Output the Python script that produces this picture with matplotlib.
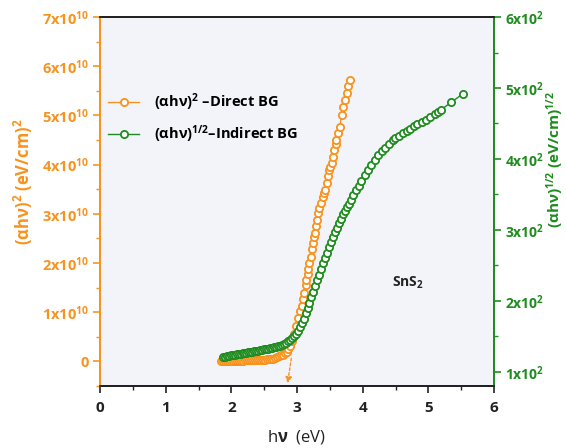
import matplotlib
matplotlib.use("Agg")
import matplotlib.pyplot as plt
from matplotlib.lines import Line2D
from matplotlib.ticker import FixedLocator, FixedFormatter, MultipleLocator

plt.rcParams['font.family'] = ['Open Sans', 'DejaVu Sans']
plt.rcParams['font.weight'] = 'bold'
plt.rcParams['mathtext.fontset'] = 'custom'
plt.rcParams['mathtext.rm'] = 'Open Sans:bold'
plt.rcParams['mathtext.bf'] = 'Open Sans:bold'
plt.rcParams['mathtext.it'] = 'Open Sans:bold'

ORANGE = '#f7931e'
GREEN = '#1f8c1f'

# Direct band gap: (alpha h nu)^2 in units of 1e10 (eV/cm)^2
direct_E = [1.85, 1.88, 1.91, 1.94, 1.97, 2.00, 2.03, 2.06, 2.09, 2.12, 2.15, 2.18,
            2.21, 2.24, 2.27, 2.30, 2.33, 2.36, 2.39, 2.42, 2.45, 2.48, 2.51, 2.54,
            2.57, 2.60, 2.63, 2.66, 2.69, 2.72, 2.75, 2.78, 2.81, 2.84, 2.87, 2.90,
            2.93, 2.96, 2.99, 3.02, 3.05, 3.07, 3.09, 3.11, 3.13, 3.14, 3.16, 3.17,
            3.19, 3.21, 3.23, 3.24, 3.26, 3.27, 3.29, 3.30, 3.32, 3.34, 3.36, 3.39,
            3.41, 3.43, 3.45, 3.47, 3.49, 3.51, 3.53, 3.55, 3.57, 3.59, 3.60, 3.63,
            3.65, 3.68, 3.70, 3.73, 3.76, 3.77, 3.81]
direct_val = [0.00, 0.00, 0.00, 0.00, 0.00, 0.00, 0.01, 0.01, 0.01, 0.01, 0.01, 0.01,
              0.02, 0.02, 0.02, 0.02, 0.02, 0.02, 0.03, 0.03, 0.03, 0.03, 0.03, 0.04,
              0.04, 0.04, 0.05, 0.06, 0.08, 0.10, 0.12, 0.14, 0.17, 0.20, 0.25, 0.32,
              0.42, 0.55, 0.72, 0.89, 1.02, 1.12, 1.26, 1.40, 1.55, 1.66, 1.78, 1.87,
              2.00, 2.13, 2.28, 2.41, 2.52, 2.62, 2.76, 2.88, 3.02, 3.12, 3.22, 3.35,
              3.42, 3.49, 3.63, 3.76, 3.89, 3.96, 4.04, 4.16, 4.30, 4.42, 4.50, 4.64,
              4.77, 5.01, 5.17, 5.31, 5.46, 5.60, 5.72]

# Indirect band gap: (alpha h nu)^(1/2) in (eV/cm)^(1/2)
indirect_E = [1.87, 1.90, 1.93, 1.96, 1.99, 2.02, 2.05, 2.08, 2.11, 2.14, 2.17, 2.20,
              2.23, 2.26, 2.29, 2.32, 2.35, 2.38, 2.41, 2.44, 2.47, 2.50, 2.53, 2.56,
              2.59, 2.62, 2.65, 2.68, 2.71, 2.74, 2.77, 2.80, 2.83, 2.86, 2.89, 2.92,
              2.95, 2.98, 3.01, 3.04, 3.07, 3.10, 3.13, 3.16, 3.19, 3.22, 3.25, 3.28,
              3.31, 3.34, 3.37, 3.40, 3.43, 3.46, 3.49, 3.52, 3.55, 3.58, 3.61, 3.64,
              3.67, 3.70, 3.73, 3.76, 3.79, 3.82, 3.86, 3.90, 3.94, 3.98, 4.03, 4.08,
              4.13, 4.19, 4.24, 4.29, 4.34, 4.40, 4.46, 4.49, 4.55, 4.62, 4.68, 4.72,
              4.78, 4.82, 4.90, 4.97, 5.03, 5.10, 5.15, 5.19, 5.35, 5.53]
indirect_val = [121, 121.5, 122, 122.5, 123, 123.5, 124, 124.5, 125, 125.5, 126, 126.5,
                127, 127.5, 128, 128.5, 129, 129.5, 130, 130.5, 131, 131.5, 132, 132.5,
                133, 134, 134.5, 135.5, 136, 137, 138, 139, 141, 143, 145, 147,
                150, 153, 157, 163, 169, 175, 183, 190, 197, 205, 213, 221,
                229, 237, 245, 253, 261, 268, 276, 283, 290, 297, 303, 310,
                316, 322, 327, 332, 337, 342, 349, 356, 362, 369, 377, 384,
                391, 399, 406, 411, 416, 421, 427, 430, 433, 437, 440, 442,
                446, 449, 452, 455, 459, 464, 466, 469, 480, 492]

left_ticks = [0, 1, 2, 3, 4, 5, 6, 7]
left_labels = ['0'] + [r'$%d\mathrm{x}10^{10}$' % v for v in left_ticks[1:]]
right_ticks = [100, 200, 300, 400, 500, 600]
right_labels = [r'$%d\mathrm{x}10^{2}$' % (v // 100) for v in right_ticks]
x_ticks = [0, 1, 2, 3, 4, 5, 6]

direct_gap = 2.85  # extrapolated intercept on the energy axis

W, H = 566, 448
fig = plt.figure(figsize=(W / 100, H / 100), dpi=100)
ax = fig.add_axes([0.1767, 0.1384, 0.6961, 0.8236])
ax.set_facecolor('#f3f3fa')
ax2 = ax.twinx()

scale = 1e10
ax.plot(direct_E, [v * scale for v in direct_val], '-o', color=ORANGE, lw=1.0,
        ms=5.2, mfc='white', mec=ORANGE, mew=1.3)
ax2.plot(indirect_E, indirect_val, '-o', color=GREEN, lw=1.0,
         ms=5.2, mfc='white', mec=GREEN, mew=1.3)

ax.annotate('', xy=(direct_gap, -0.5 * scale), xytext=(2.92, 0.12 * scale),
            arrowprops=dict(arrowstyle='-|>', color=ORANGE, lw=1.0, ls=(0, (2, 1.5)),
                            mutation_scale=9))

ax.set_xlim(0, 6)
ax.set_ylim(-0.5 * scale, 7 * scale)
ax2.set_ylim(80, 600)

ax.xaxis.set_major_locator(FixedLocator(x_ticks))
ax.xaxis.set_minor_locator(MultipleLocator(0.5))
ax.set_xticklabels([str(v) for v in x_ticks])

ax.yaxis.set_major_locator(FixedLocator([v * scale for v in left_ticks]))
ax.yaxis.set_major_formatter(FixedFormatter(left_labels))
ax.yaxis.set_minor_locator(MultipleLocator(0.5 * scale))
ax2.yaxis.set_major_locator(FixedLocator(right_ticks))
ax2.yaxis.set_major_formatter(FixedFormatter(right_labels))
ax2.yaxis.set_minor_locator(MultipleLocator(50))

for a in (ax, ax2):
    a.spines['left'].set_color(ORANGE)
    a.spines['right'].set_color(GREEN)
    a.spines['top'].set_color('#222222')
    a.spines['bottom'].set_color('#222222')
    for s in a.spines.values():
        s.set_linewidth(1.3)

ax.tick_params(axis='x', which='major', direction='out', length=5, width=1.2,
               colors='#222222', labelsize=11, pad=6)
ax.tick_params(axis='x', which='minor', direction='out', length=3, width=1.0, colors='#222222')
ax.tick_params(axis='y', which='major', direction='out', length=5, width=1.2,
               colors=ORANGE, labelsize=10.5, pad=3)
ax.tick_params(axis='y', which='minor', direction='out', length=3, width=1.0, colors=ORANGE)
ax2.tick_params(axis='y', which='major', direction='out', length=5, width=1.2,
                colors=GREEN, labelsize=10, pad=3)
ax2.tick_params(axis='y', which='minor', direction='out', length=3, width=1.0, colors=GREEN)

ax.set_xlabel(r'h$\nu$  (eV)', fontsize=12, color='#222222', labelpad=9)

# Axis titles for the two y scales, placed in figure pixels
fig.text(23 / W, 1 - 182 / H, r'($\alpha$h$\nu$)$^2$ (eV/cm)$^2$', rotation=90,
         ha='center', va='center', fontsize=12, color=ORANGE)
fig.text(555 / W, 1 - 160 / H, r'($\alpha$h$\nu$)$^{1/2}$ (eV/cm)$^{1/2}$', rotation=90,
         ha='center', va='center', fontsize=11, color=GREEN)

handles = [
    Line2D([], [], color=ORANGE, lw=1.0, marker='o', ms=5.2, mfc='white', mec=ORANGE, mew=1.3),
    Line2D([], [], color=GREEN, lw=1.0, marker='o', ms=5.2, mfc='white', mec=GREEN, mew=1.3),
]
labels = [r'($\alpha$h$\nu$)$^2$ –Direct BG', r'($\alpha$h$\nu$)$^{1/2}$–Indirect BG']
ax2.legend(handles, labels, loc='center left', bbox_to_anchor=(-0.012, 0.725),
           frameon=False, fontsize=10.5, handlelength=2.1, handletextpad=1.0,
           labelspacing=0.7)

ax.text(4.45, 1.6 * scale, r'SnS$_2$', fontsize=10, color='#222222', va='center')

fig.savefig('out.png', dpi=100, facecolor='white')
